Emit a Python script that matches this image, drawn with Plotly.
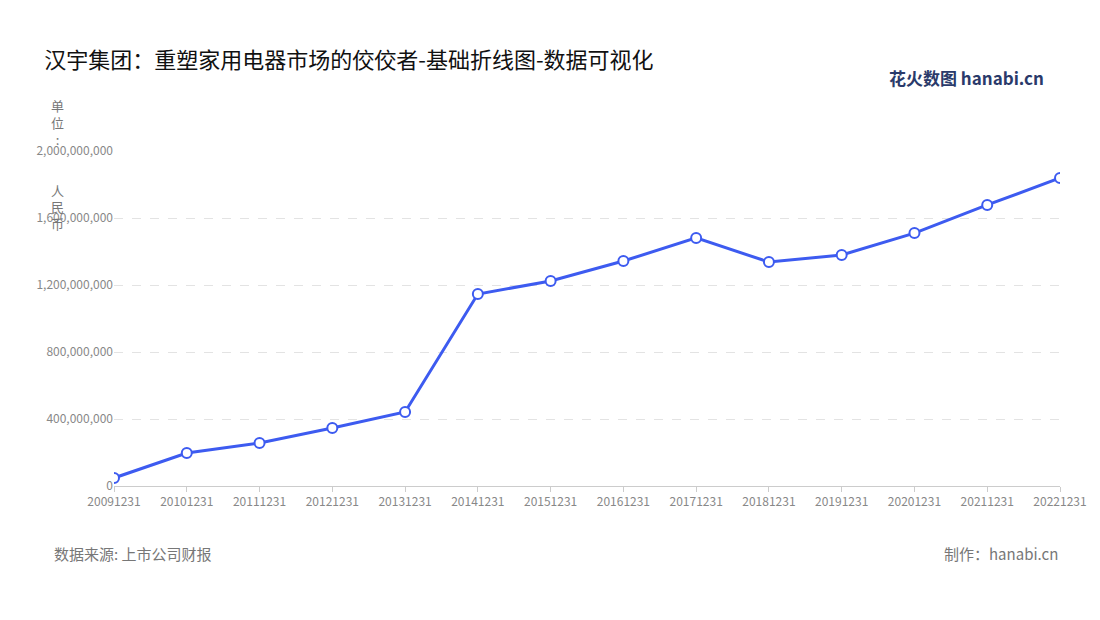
import plotly.graph_objects as go

dates = ["20091231","20101231","20111231","20121231","20131231","20141231","20151231",
         "20161231","20171231","20181231","20191231","20201231","20211231","20221231"]
revenue = [48e6,197e6,257e6,346e6,442e6,1146e6,1224e6,1343e6,1481e6,1337e6,1379e6,1510e6,1678e6,1839e6]
yticks = [0,400e6,800e6,1200e6,1600e6,2000e6]
ytick_labels = ["0","400,000,000","800,000,000","1,200,000,000","1,600,000,000","2,000,000,000"]

font = "Noto Sans CJK SC"
fig = go.Figure(go.Scatter(
    x=dates, y=revenue, mode="lines+markers",
    line=dict(color="#3d5bf0", width=3),
    marker=dict(size=10, color="white", line=dict(color="#3d5bf0", width=2)),
))
fig.update_layout(
    width=1100, height=620, plot_bgcolor="white", paper_bgcolor="white",
    margin=dict(l=106, r=48, t=143, b=142), showlegend=False,
    font=dict(family=font, color="#888"),
    title=dict(text="汉宇集团：重塑家用电器市场的佼佼者-基础折线图-数据可视化",
               x=0.033, xanchor="left", y=0.915, yanchor="middle",
               font=dict(size=22, color="#111", family=font)),
    xaxis=dict(type="category", showgrid=False, showline=True, linecolor="#ccc",
               ticks="outside", tickcolor="#ccc", ticklen=5, tickfont=dict(size=12, color="#888"),
               range=[0, len(dates)-1], tickangle=0),
    yaxis=dict(range=[0, 2000e6], tickvals=yticks, ticktext=ytick_labels,
               showgrid=True, gridcolor="#e3e3e3", griddash="dash", zeroline=False,
               tickfont=dict(size=12, color="#888")),
    annotations=[
        dict(text="单<br>位<br>:<br><br><br>人<br>民<br>币", xref="paper", yref="paper",
             x=-0.06, y=1.17, xanchor="center", yanchor="top", showarrow=False,
             font=dict(size=13, color="#777")),
        dict(text="数据来源: 上市公司财报", xref="paper", yref="paper", x=-0.066, y=-0.2,
             xanchor="left", yanchor="middle", showarrow=False, font=dict(size=15, color="#777")),
        dict(text="制作：hanabi.cn", xref="paper", yref="paper", x=1.0, y=-0.2,
             xanchor="right", yanchor="middle", showarrow=False, font=dict(size=15, color="#777")),
        dict(text="<b>花火数图</b> <b>hanabi.cn</b>", xref="paper", yref="paper", x=0.985, y=1.22,
             xanchor="right", yanchor="middle", showarrow=False, font=dict(size=17, color="#2a3a6a")),
    ],
)
fig.write_html("out.html")
